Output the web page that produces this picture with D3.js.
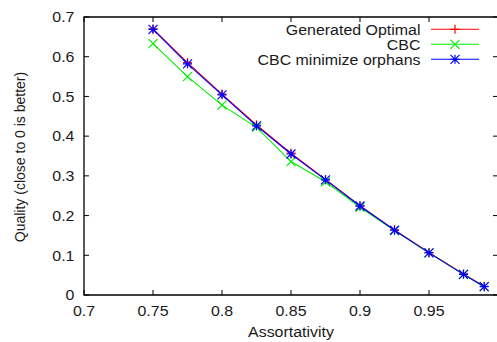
<!DOCTYPE html>
<html><head><meta charset="utf-8">
<script src="https://cdn.jsdelivr.net/npm/d3@7"></script>
<style>body{margin:0;background:#fff}svg{display:block}text{font-family:"Liberation Sans",Arial,sans-serif}</style>
</head><body>
<script>
const assortativity = [0.75,0.775,0.8,0.825,0.85,0.875,0.9,0.925,0.95,0.975,0.99];
const generatedOptimal = [0.670,0.585,0.506,0.428,0.357,0.291,0.225,0.164,0.107,0.053,0.022];
const cbc = [0.633,0.550,0.478,0.422,0.336,0.285,0.221,0.162,0.106,0.052,0.021];
const cbcMinOrphans = [0.669,0.582,0.504,0.426,0.355,0.290,0.224,0.163,0.106,0.052,0.021];
const xTicks = [0.7,0.75,0.8,0.85,0.9,0.95];
const yTicks = [0,0.1,0.2,0.3,0.4,0.5,0.6,0.7];
const seriesNames = ["Generated Optimal","CBC","CBC minimize orphans"];
const seriesColors = ["#ff0000","#00ee00","#0000ff"];
const seriesMarkers = ["plus","cross","star"];
const seriesValues = [generatedOptimal, cbc, cbcMinOrphans];

const W=497,H=342;
const svg=d3.select("body").append("svg").attr("width",W).attr("height",H);
const x=d3.scaleLinear().domain([0.7,1.0]).range([84,498]);
const y=d3.scaleLinear().domain([0,0.7]).range([295,17]);
const fs=14.5, sx=1.1;

function stext(px,py,anchor,str,size){
  return svg.append("text").attr("transform",`translate(${px},${py}) scale(${sx},1)`)
    .attr("text-anchor",anchor).attr("font-size",size||fs).attr("fill","#1a1a1a").text(str);
}

// border
svg.append("path").attr("d",`M${x(1.0)},${y(0.7)}H${x(0.7)}V${y(0)}H${x(1.0)}V${y(0.7)}`)
  .attr("fill","none").attr("stroke","#000").attr("stroke-width",1.3);

const tl=5;
const g=svg.append("g").attr("stroke","#000").attr("stroke-width",1);
xTicks.forEach(t=>{
  g.append("line").attr("x1",x(t)).attr("x2",x(t)).attr("y1",y(0)).attr("y2",y(0)-tl);
  g.append("line").attr("x1",x(t)).attr("x2",x(t)).attr("y1",y(0.7)).attr("y2",y(0.7)+tl);
  stext(x(t),315.5,"middle",t);
});
yTicks.forEach(t=>{
  g.append("line").attr("x1",x(0.7)).attr("x2",x(0.7)+tl).attr("y1",y(t)).attr("y2",y(t));
  g.append("line").attr("x1",x(1.0)).attr("x2",x(1.0)-tl).attr("y1",y(t)).attr("y2",y(t));
  stext(74.5,y(t)+5.3,"end",t);
});

stext(291,336.5,"middle","Assortativity");
svg.append("text").attr("transform","translate(25,157) rotate(-90)").attr("text-anchor","middle").attr("font-size",14).attr("fill","#1a1a1a").text("Quality (close to 0 is better)");

function marker(sel,type,cx,cy,color){
  const s=4.5;
  let d="";
  if(type==="plus"||type==="star") d+=`M${cx-s},${cy}H${cx+s}M${cx},${cy-s}V${cy+s}`;
  if(type==="cross"||type==="star") d+=`M${cx-s},${cy-s}L${cx+s},${cy+s}M${cx-s},${cy+s}L${cx+s},${cy-s}`;
  sel.append("path").attr("d",d).attr("stroke",color).attr("stroke-width",1.2).attr("fill","none");
}

const line=d3.line().x(d=>x(d[0])).y(d=>y(d[1]));
seriesValues.forEach((vals,i)=>{
  const pts=assortativity.map((a,j)=>[a,vals[j]]);
  const sg=svg.append("g");
  sg.append("path").attr("d",line(pts)).attr("fill","none").attr("stroke",seriesColors[i]).attr("stroke-width",1.1);
  pts.forEach(p=>marker(sg,seriesMarkers[i],x(p[0]),y(p[1]),seriesColors[i]));
  const ly=29.3+i*15;
  stext(420.5,ly+5.2,"end",seriesNames[i]);
  sg.append("line").attr("x1",431).attr("x2",479).attr("y1",ly).attr("y2",ly).attr("stroke",seriesColors[i]).attr("stroke-width",1.1);
  marker(sg,seriesMarkers[i],455,ly,seriesColors[i]);
});
</script>
</body></html>
